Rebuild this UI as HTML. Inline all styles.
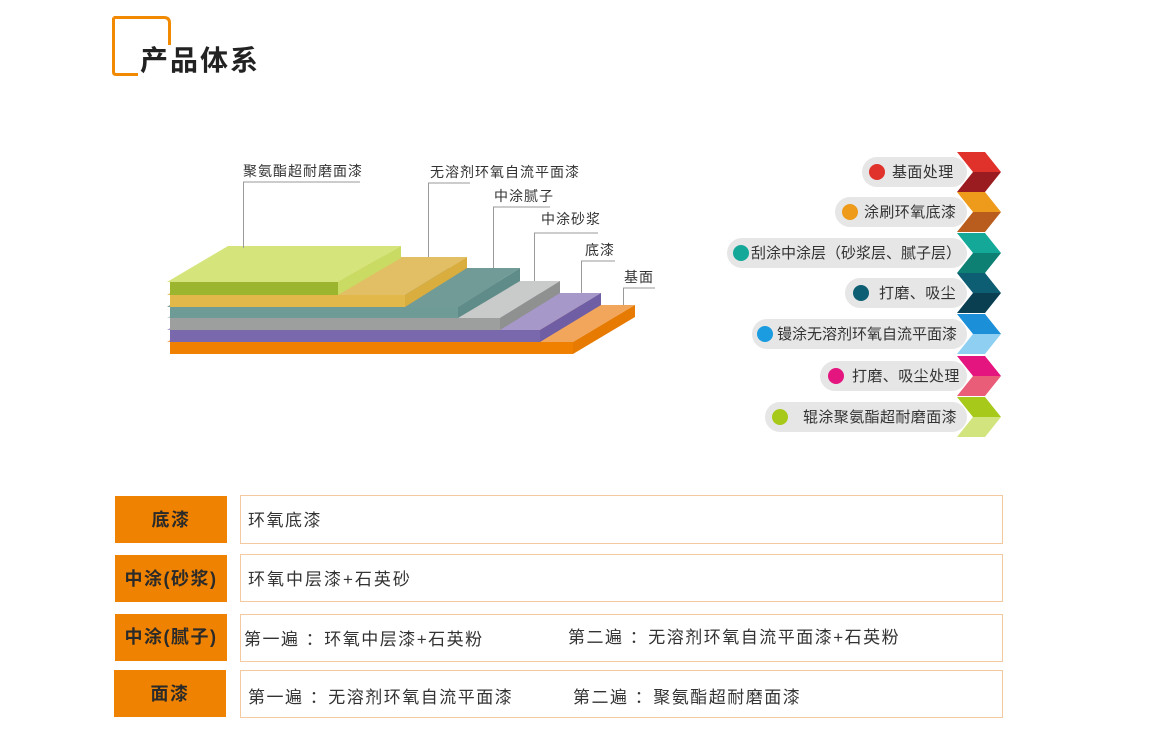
<!DOCTYPE html>
<html><head><meta charset="utf-8"><style>
html,body{margin:0;padding:0;background:#fff;}
svg{display:block;font-family:"Liberation Sans","Noto Sans CJK SC",sans-serif;}
</style></head><body>
<svg width="1174" height="741" viewBox="0 0 1174 741" xmlns="http://www.w3.org/2000/svg">
<path d="M113.5 17.5 V72 Q113.5 74.5 116 74.5 H138" fill="none" stroke="#f18a00" stroke-width="3"/>
<path d="M113.5 17.5 H164 Q169.5 17.5 169.5 23 V45" fill="none" stroke="#f18a00" stroke-width="3"/>
<text x="140" y="70" font-size="28" font-weight="bold" fill="#222" letter-spacing="2">产品体系</text>

<g>
<polygon points="167,342 229,305 635,305 573,342" fill="#f2a65c"/>
<polygon points="573,342 635,305 635,317 573,354" fill="#e77a00"/>
<rect x="170" y="342" width="403" height="12" fill="#ef8000"/>
<polygon points="167,330 229,293 601,293 540,330" fill="#a698c9"/>
<polygon points="540,330 601,293 601,305 540,342" fill="#6f5ea3"/>
<rect x="170" y="330" width="370" height="12" fill="#7a68ad"/>
<polygon points="167,318 229,281 560,281 500,318" fill="#c9caca"/>
<polygon points="500,318 560,281 560,293 500,330" fill="#8f9090"/>
<rect x="170" y="318" width="330" height="12" fill="#9d9e9e"/>
<polygon points="167,307 229,268 520,268 458,307" fill="#709b97"/>
<polygon points="458,307 520,268 520,281 458,318" fill="#5f8c88"/>
<rect x="170" y="307" width="288" height="11" fill="#6f9b97"/>
<polygon points="167,295 229,257 467,257 405,295" fill="#e2be64"/>
<polygon points="405,295 467,257 467,268 405,307" fill="#d9ad3e"/>
<rect x="170" y="295" width="235" height="12" fill="#e3b84a"/>
<polygon points="167,282 228,246 401,246 338,282" fill="#d6e47c"/>
<polygon points="338,282 401,246 401,258 338,295" fill="#c9db62"/>
<rect x="170" y="282" width="168" height="13" fill="#9cb52f"/>
</g>

<g stroke="#9a9a9a" stroke-width="1" fill="none">
<path d="M243.5 248 V182 H360"/>
<path d="M428.5 257 V183 H470"/>
<path d="M493.5 268 V207 H550"/>
<path d="M534.5 281 V233 H598"/>
<path d="M581.5 293 V261 H615"/>
<path d="M623.5 305 V288 H655"/>
</g>
<g font-size="14" fill="#333" letter-spacing="1">
<text x="243" y="176">聚氨酯超耐磨面漆</text>
<text x="430" y="177">无溶剂环氧自流平面漆</text>
<text x="494" y="201">中涂腻子</text>
<text x="541" y="224">中涂砂浆</text>
<text x="585" y="255">底漆</text>
<text x="624" y="282">基面</text>
</g>

<g font-size="15" fill="#333" letter-spacing="0.4">
<rect x="862" y="157" width="105" height="30" rx="15" fill="#e6e6e6"/>
<circle cx="877" cy="172" r="8" fill="#e0312b"/>
<text x="892" y="177">基面处理</text>
<polygon points="957,152 985,152 1001,172 973,172" fill="#e0312b"/>
<polygon points="973,172 1001,172 985,192 957,192" fill="#9b1c20"/>

<rect x="835" y="197" width="132" height="30" rx="15" fill="#e6e6e6"/>
<circle cx="850" cy="212" r="8" fill="#ee9a1a"/>
<text x="864" y="217">涂刷环氧底漆</text>
<polygon points="957,192 985,192 1001,212 973,212" fill="#ee9a1a"/>
<polygon points="973,212 1001,212 985,232 957,232" fill="#b85d1e"/>

<rect x="727" y="238" width="240" height="30" rx="15" fill="#e6e6e6"/>
<circle cx="741" cy="253" r="8" fill="#14a898"/>
<text x="751" y="258" letter-spacing="0">刮涂中涂层（砂浆层、腻子层）</text>
<polygon points="957,233 985,233 1001,253 973,253" fill="#14a898"/>
<polygon points="973,253 1001,253 985,273 957,273" fill="#0e7f73"/>

<rect x="845" y="278" width="122" height="30" rx="15" fill="#e6e6e6"/>
<circle cx="861" cy="293" r="8" fill="#0d5e73"/>
<text x="879" y="298">打磨、吸尘</text>
<polygon points="957,273 985,273 1001,293 973,293" fill="#0d5e73"/>
<polygon points="973,293 1001,293 985,313 957,313" fill="#0a3f52"/>

<rect x="752" y="319" width="215" height="30" rx="15" fill="#e6e6e6"/>
<circle cx="765" cy="334" r="8" fill="#1b9be0"/>
<text x="777" y="339" letter-spacing="0">镘涂无溶剂环氧自流平面漆</text>
<polygon points="957,314 985,314 1001,334 973,334" fill="#1b8fd8"/>
<polygon points="973,334 1001,334 985,354 957,354" fill="#8ecff2"/>

<rect x="820" y="361" width="147" height="30" rx="15" fill="#e6e6e6"/>
<circle cx="836" cy="376" r="8" fill="#e4157f"/>
<text x="852" y="381">打磨、吸尘处理</text>
<polygon points="957,356 985,356 1001,376 973,376" fill="#e4157f"/>
<polygon points="973,376 1001,376 985,396 957,396" fill="#e95d78"/>

<rect x="765" y="402" width="202" height="30" rx="15" fill="#e6e6e6"/>
<circle cx="780" cy="417" r="8" fill="#a6c91a"/>
<text x="803" y="422">辊涂聚氨酯超耐磨面漆</text>
<polygon points="957,397 985,397 1001,417 973,417" fill="#a6c91a"/>
<polygon points="973,417 1001,417 985,437 957,437" fill="#d1e47e"/>
</g>

<g>
<rect x="115" y="496" width="112" height="47" fill="#ef8200"/>
<rect x="115" y="555" width="112" height="47" fill="#ef8200"/>
<rect x="115" y="614" width="112" height="47" fill="#ef8200"/>
<rect x="114" y="670" width="112" height="47" fill="#ef8200"/>
<g fill="#fff" stroke="#f5c9a0" stroke-width="1">
<rect x="240.5" y="495.5" width="762" height="48"/>
<rect x="240.5" y="554.5" width="762" height="47"/>
<rect x="240.5" y="614.5" width="762" height="47"/>
<rect x="240.5" y="670.5" width="762" height="47"/>
</g>
<g font-size="18" font-weight="bold" fill="#2a2a2a" text-anchor="middle" letter-spacing="1.5">
<text x="171" y="526">底漆</text>
<text x="171" y="585">中涂(砂浆)</text>
<text x="171" y="643">中涂(腻子)</text>
<text x="170" y="700">面漆</text>
</g>
<g font-size="17" fill="#333" letter-spacing="1.5">
<text x="248" y="526">环氧底漆</text>
<text x="248" y="585" letter-spacing="2">环氧中层漆+石英砂</text>
<text x="244" y="645">第一遍 ：环氧中层漆+石英粉</text>
<text x="568" y="643">第二遍 ：无溶剂环氧自流平面漆+石英粉</text>
<text x="248" y="703">第一遍 ：无溶剂环氧自流平面漆</text>
<text x="573" y="703">第二遍 ：聚氨酯超耐磨面漆</text>
</g>
</g>
</svg>
</body></html>
